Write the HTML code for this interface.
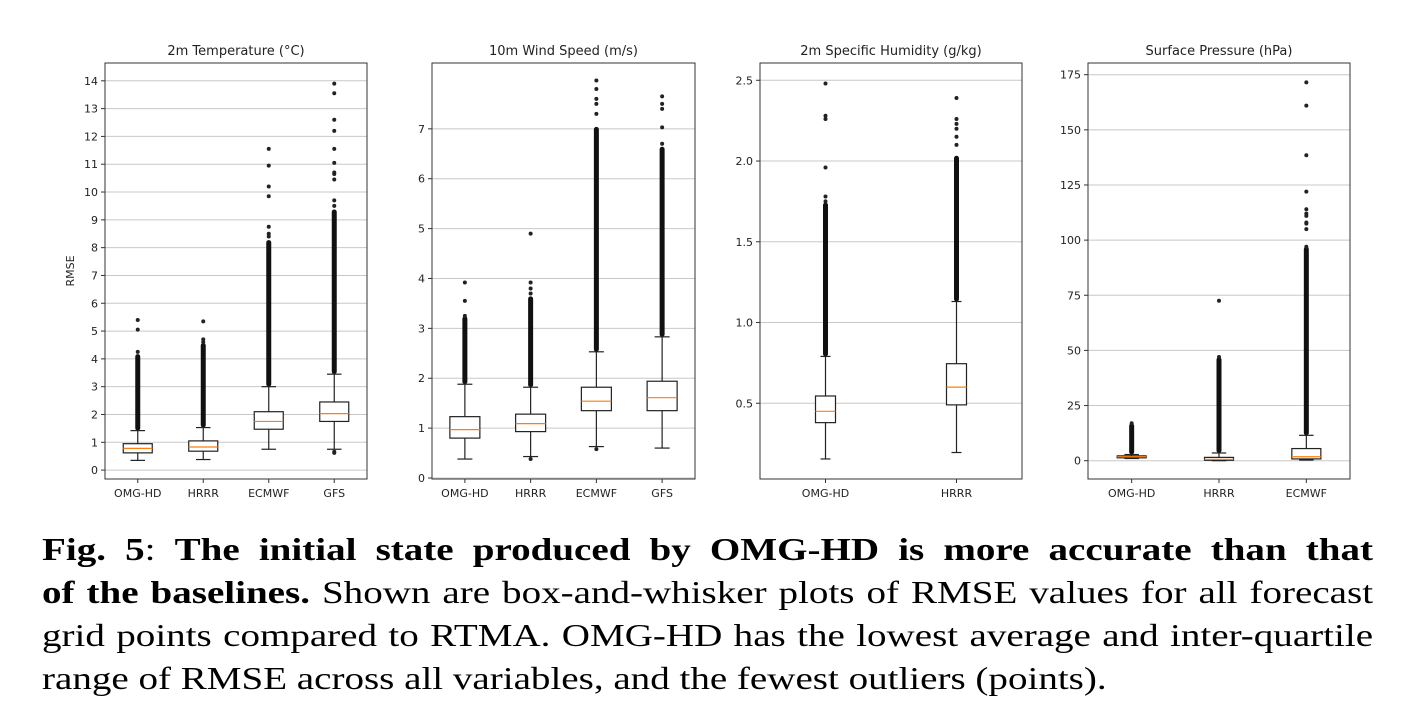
<!DOCTYPE html>
<html><head><meta charset="utf-8">
<style>
html,body{margin:0;padding:0;background:#fff;}
body{width:1405px;height:725px;position:relative;overflow:hidden;}
#fig{position:absolute;left:0;top:0;}
.cap{position:absolute;left:42px;width:1091px;transform:scaleX(1.22);transform-origin:0 0;font-family:"Liberation Serif",serif;font-size:32px;color:#000;white-space:nowrap;text-align:justify;text-align-last:justify;line-height:43px;}
.cap b{font-weight:bold;}
</style></head>
<body>
<svg id="fig" width="1405" height="520" xmlns="http://www.w3.org/2000/svg" font-family="DejaVu Sans, Liberation Sans, sans-serif"></svg>
<div class="cap" style="top:528px"><b>Fig. 5</b>: <b>The initial state produced by OMG-HD is more accurate than that</b></div>
<div class="cap" style="top:571px"><b>of the baselines.</b> Shown are box-and-whisker plots of RMSE values for all forecast</div>
<div class="cap" style="top:614px">grid points compared to RTMA. OMG-HD has the lowest average and inter-quartile</div>
<div class="cap" style="top:657px;text-align:left;text-align-last:left">range of RMSE across all variables, and the fewest outliers (points).</div>
<script>
// ---- data ----
const titles = ["2m Temperature (\u00B0C)", "10m Wind Speed (m/s)", "2m Specific Humidity (g/kg)", "Surface Pressure (hPa)"];
const catsTemp = ["OMG-HD","HRRR","ECMWF","GFS"];
const catsWind = ["OMG-HD","HRRR","ECMWF","GFS"];
const catsHum = ["OMG-HD","HRRR"];
const catsPres = ["OMG-HD","HRRR","ECMWF"];
const ticksTemp = [0,1,2,3,4,5,6,7,8,9,10,11,12,13,14];
const ticksWind = [0,1,2,3,4,5,6,7];
const ticksHum = [0.5,1.0,1.5,2.0,2.5];
const ticksPres = [0,25,50,75,100,125,150,175];
// box stats: [whiskerLow, q1, median, q3, whiskerHigh]
const statsTemp = [[0.35,0.62,0.78,0.95,1.42],[0.38,0.68,0.83,1.05,1.53],[0.75,1.47,1.75,2.1,3.0],[0.75,1.75,2.03,2.45,3.45]];
const statsWind = [[0.38,0.8,0.97,1.23,1.88],[0.43,0.93,1.09,1.28,1.82],[0.63,1.35,1.54,1.82,2.53],[0.6,1.35,1.61,1.94,2.83]];
const statsHum = [[0.155,0.38,0.45,0.545,0.79],[0.195,0.49,0.6,0.745,1.13]];
const statsPres = [[1.0,1.3,1.8,2.2,2.8],[0.0,0.2,0.6,1.5,3.5],[0.3,0.8,1.8,5.5,11.5]];
// dense outlier ranges [from, to]
const denseTemp = [[1.42,4.1],[1.53,4.5],[3.0,8.2],[3.45,9.3]];
const denseWind = [[1.88,3.2],[1.82,3.6],[2.53,7.0],[2.83,6.6]];
const denseHum = [[0.79,1.73],[1.13,2.02]];
const densePres = [[2.8,16],[3.5,46],[11.5,96]];
// sparse outliers
const outTemp = [[4.25,5.05,5.4],[4.6,4.7,5.35],[8.4,8.5,8.75,9.85,10.2,10.95,11.55],[0.62,0.66,9.5,9.7,10.45,10.65,10.7,11.05,11.55,12.2,12.6,13.55,13.9]];
const outWind = [[3.25,3.55,3.92],[0.38,3.7,3.8,3.92,4.9],[0.58,7.3,7.5,7.6,7.8,7.97],[6.7,7.03,7.4,7.5,7.65]];
const outHum = [[1.75,1.78,1.96,2.26,2.28,2.48],[2.1,2.15,2.2,2.23,2.26,2.39]];
const outPres = [[17],[47,72.5],[97,105,107.5,108,111,112,114,122,138.5,161,171.5]];

const NS="http://www.w3.org/2000/svg";
const svg=document.getElementById('fig');
function mk(tag,attrs,parent){const e=document.createElementNS(NS,tag);for(const k in attrs)e.setAttribute(k,attrs[k]);(parent||svg).appendChild(e);return e;}

const panels=[
 {title:titles[0],cats:catsTemp,ticks:ticksTemp,stats:statsTemp,dense:denseTemp,out:outTemp,x0:105,x1:367,ymin:-0.32,ymax:14.64,bw:29,fmt:v=>String(v),name:'temperature'},
 {title:titles[1],cats:catsWind,ticks:ticksWind,stats:statsWind,dense:denseWind,out:outWind,x0:432,x1:695,ymin:-0.02,ymax:8.32,bw:30,fmt:v=>String(v),name:'wind-speed'},
 {title:titles[2],cats:catsHum,ticks:ticksHum,stats:statsHum,dense:denseHum,out:outHum,x0:760,x1:1022,ymin:0.031,ymax:2.607,bw:20,fmt:v=>v.toFixed(1),name:'humidity'},
 {title:titles[3],cats:catsPres,ticks:ticksPres,stats:statsPres,dense:densePres,out:outPres,x0:1088,x1:1350,ymin:-8.3,ymax:180.3,bw:29,fmt:v=>String(v),name:'pressure'}
];
const T=63,B=479;
panels.forEach(p=>{
  const g=mk('g',{});
  
  
  const y=v=>B-(v-p.ymin)/(p.ymax-p.ymin)*(B-T);
  const n=p.cats.length, step=(p.x1-p.x0)/n;
  const x=i=>p.x0+step*(i+0.5);
  p.ticks.forEach(t=>{
    const yy=y(t);
    const gl=mk('line',{x1:p.x0,x2:p.x1,y1:yy,y2:yy,stroke:'#c8c8c8','stroke-width':1},g);
    
    
    mk('line',{x1:p.x0-4,x2:p.x0,y1:yy,y2:yy,stroke:'#333','stroke-width':1},g);
    const tl=mk('text',{x:p.x0-7,y:yy+4,'font-size':11,'text-anchor':'end',fill:'#222'},g);
    tl.textContent=p.fmt(t);
    
    
  });
  p.cats.forEach((c,i)=>{
    const s=p.stats[i], cx=x(i), hw=p.bw/2;
    mk('line',{x1:cx,x2:cx,y1:B,y2:B+4,stroke:'#333'},g);
    const xl=mk('text',{x:cx,y:B+18,'font-size':11,'text-anchor':'middle',fill:'#222'},g);
    xl.textContent=c;
    
    
    const d=p.dense[i];
    const dr=mk('rect',{x:cx-2.5,y:y(d[1])-2,width:5,height:Math.max(0,y(d[0])-y(d[1]))+2,rx:2.5,fill:'#111'},g);
    
    
    p.out[i].forEach(v=>{
      const o=mk('circle',{cx:cx,cy:y(v),r:2,fill:'#222'},g);
      
      
    });
    mk('line',{x1:cx,x2:cx,y1:y(s[0]),y2:y(s[1]),stroke:'#222','stroke-width':1.2},g);
    mk('line',{x1:cx,x2:cx,y1:y(s[3]),y2:y(s[4]),stroke:'#222','stroke-width':1.2},g);
    mk('line',{x1:cx-hw/2,x2:cx+hw/2,y1:y(s[0]),y2:y(s[0]),stroke:'#222','stroke-width':1.2},g);
    mk('line',{x1:cx-hw/2,x2:cx+hw/2,y1:y(s[4]),y2:y(s[4]),stroke:'#222','stroke-width':1.2},g);
    const bx=mk('rect',{x:cx-hw,y:y(s[3]),width:p.bw,height:Math.max(1,y(s[1])-y(s[3])),fill:'#fff',stroke:'#222','stroke-width':1.2},g);
    
    
    const md=mk('line',{x1:cx-hw,x2:cx+hw,y1:y(s[2]),y2:y(s[2]),stroke:'#ff7f0e','stroke-width':1.2},g);
    
    
  });
  const fr=mk('rect',{x:p.x0,y:T,width:p.x1-p.x0,height:B-T,fill:'none',stroke:'#333','stroke-width':1},g);
  
  
  const tt=mk('text',{x:(p.x0+p.x1)/2,y:55,'font-size':13,'text-anchor':'middle',fill:'#222'},g);
  tt.textContent=p.title;
  
  
});
const yl=mk('text',{x:0,y:0,'font-size':11,'text-anchor':'middle',fill:'#222',transform:'translate(74,271) rotate(-90)'});
yl.textContent='RMSE';


</script>
</body></html>
